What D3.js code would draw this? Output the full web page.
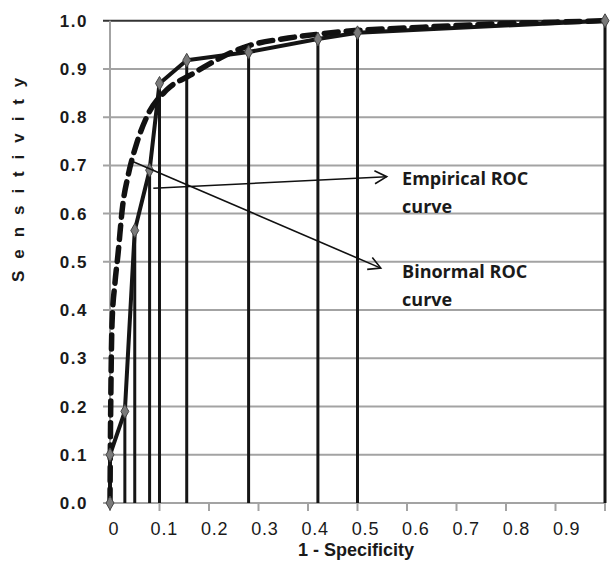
<!DOCTYPE html>
<html>
<head>
<meta charset="utf-8">
<script src="https://cdn.jsdelivr.net/npm/d3@7"></script>
<style>
  body { margin: 0; background: #fff; }
  svg { display: block; }
</style>
</head>
<body>
<div id="chart"></div>
<script>
// data
var empiricalFpr  = [0, 0, 0.03, 0.05, 0.08, 0.10, 0.155, 0.28, 0.42, 0.50, 1.0];
var empiricalTpr  = [0, 0.10, 0.19, 0.565, 0.69, 0.87, 0.918, 0.935, 0.962, 0.975, 1.0];

var binormalFpr   = [0, 0.001, 0.002, 0.004, 0.010, 0.016, 0.026, 0.036, 0.054, 0.074, 0.114, 0.162, 0.28, 0.36, 0.42, 0.50, 0.60, 0.70, 0.80, 0.90, 1.0];
var binormalTpr   = [0, 0.15, 0.25, 0.37, 0.456, 0.514, 0.62, 0.676, 0.746, 0.80, 0.856, 0.887, 0.948, 0.964, 0.972, 0.98, 0.985, 0.99, 0.994, 0.997, 1.0];

var xTicks = [0, 0.1, 0.2, 0.3, 0.4, 0.5, 0.6, 0.7, 0.8, 0.9];
var yTicks = [0, 0.1, 0.2, 0.3, 0.4, 0.5, 0.6, 0.7, 0.8, 0.9, 1.0];

// annotation arrows (data units) and their labels
var notes = [
    {from: [0.0875, 0.6525], to: [0.559, 0.6766], lines: ["Empirical ROC", "curve"], at: [0.588, 0.66]},
    {from: [0.047, 0.7077], to: [0.547, 0.487], lines: ["Binormal ROC", "curve"], at: [0.588, 0.467]}
];

var width = 611, height = 561;
var x = d3.scaleLinear().domain([0, 1]).range([110, 605]);
var y = d3.scaleLinear().domain([0, 1]).range([503, 20.7]);

var svg = d3.select("#chart").append("svg")
    .attr("width", width)
    .attr("height", height)
    .style("background", "#fff");

var defs = svg.append("defs");
defs.append("marker")
    .attr("id", "arrow")
    .attr("markerUnits", "userSpaceOnUse")
    .attr("markerWidth", 16).attr("markerHeight", 16)
    .attr("refX", 13).attr("refY", 8)
    .attr("orient", "auto")
    .append("path")
    .attr("d", "M1,1.5 L13,8 L1,14.5")
    .attr("fill", "none")
    .attr("stroke", "#111")
    .attr("stroke-width", 1.6);

//gridlines
svg.append("g").selectAll("line")
    .data(yTicks)
    .enter().append("line")
    .attr("x1", x(0) - 7).attr("x2", x(1))
    .attr("y1", d => y(d)).attr("y2", d => y(d))
    .attr("stroke", d => d === 1 ? "#333" : "#a3a3a3")
    .attr("stroke-width", 2);

// left axis line
svg.append("line")
    .attr("x1", x(0)).attr("x2", x(0))
    .attr("y1", y(1)).attr("y2", y(0))
    .attr("stroke", "#a3a3a3").attr("stroke-width", 2);

// x tick marks
svg.append("g").selectAll("line")
    .data(xTicks.concat([1]))
    .enter().append("line")
    .attr("x1", d => x(d)).attr("x2", d => x(d))
    .attr("y1", y(0)).attr("y2", y(0) + 8)
    .attr("stroke", "#a3a3a3").attr("stroke-width", 2);

// y tick labels
svg.append("g").selectAll("text")
    .data(yTicks)
    .enter().append("text")
    .attr("x", 88)
    .attr("y", d => y(d) + 6)
    .attr("text-anchor", "end")
    .style("font-family", "'Liberation Sans', Arial, sans-serif")
    .style("font-weight", "bold")
    .style("font-size", "17px")
    .style("letter-spacing", "1.5px")
    .style("fill", "#1a1a1a")
    .text(d => d3.format(".1f")(d));

// x tick labels
svg.append("g").selectAll("text")
    .data(xTicks)
    .enter().append("text")
    .attr("x", d => x(d) + 4 + 8 * d)
    .attr("y", 535)
    .attr("text-anchor", "middle")
    .style("font-family", "'Liberation Sans', Arial, sans-serif")
    .style("font-size", "18px")
    .style("letter-spacing", "0.8px")
    .style("fill", "#1a1a1a")
    .text(d => d === 0 ? "0" : d3.format(".1f")(d));

// axis titles
svg.append("text")
    .attr("x", 356)
    .attr("y", 556)
    .attr("text-anchor", "middle")
    .style("font-family", "'Liberation Sans', Arial, sans-serif")
    .style("font-weight", "bold")
    .style("font-size", "18px")
    .style("fill", "#1a1a1a")
    .text("1 - Specificity");

svg.append("text")
    .attr("transform", "translate(24," + 178 + ") rotate(-90)")
    .attr("text-anchor", "middle")
    .style("font-family", "'Liberation Sans', Arial, sans-serif")
    .style("font-weight", "bold")
    .style("font-size", "17px")
    .style("letter-spacing", "3.6px")
    .style("fill", "#1a1a1a")
    .text("S e n s i t i v i t y");

var empirical = empiricalFpr.map((d, i) => [d, empiricalTpr[i]]);
var binormal = binormalFpr.map((d, i) => [d, binormalTpr[i]]);

// drop lines from each empirical point
svg.append("g").selectAll("line")
    .data(empirical)
    .enter().append("line")
    .attr("x1", d => x(d[0])).attr("x2", d => x(d[0]))
    .attr("y1", d => y(d[1])).attr("y2", y(0))
    .attr("stroke", "#151515")
    .attr("stroke-width", 3);

// empirical ROC
svg.append("path")
    .datum(empirical)
    .attr("fill", "none")
    .attr("stroke", "#151515")
    .attr("stroke-width", 4)
    .attr("stroke-linejoin", "round")
    .attr("d", d3.line().x(d => x(d[0])).y(d => y(d[1])));

// binormal ROC
svg.append("path")
    .datum(binormal)
    .attr("fill", "none")
    .attr("stroke", "#111")
    .attr("stroke-width", 5.5)
    .attr("stroke-dasharray", "14,8")
    .attr("stroke-linecap", "round")
    .attr("d", d3.line().curve(d3.curveMonotoneX).x(d => x(d[0])).y(d => y(d[1])));

// markers
svg.append("g").selectAll("path")
    .data(empirical)
    .enter().append("path")
    .attr("transform", d => "translate(" + x(d[0]) + "," + y(d[1]) + ")")
    .attr("d", d3.symbol().type(d3.symbolDiamond).size(55))
    .attr("fill", "#7a7a7a")
    .attr("stroke", "#444")
    .attr("stroke-width", 1);

// annotation arrows and labels
var note = svg.append("g").selectAll("g")
    .data(notes)
    .enter().append("g");

note.append("line")
    .attr("x1", d => x(d.from[0])).attr("y1", d => y(d.from[1]))
    .attr("x2", d => x(d.to[0])).attr("y2", d => y(d.to[1]))
    .attr("stroke", "#111")
    .attr("stroke-width", 1.6)
    .attr("marker-end", "url(#arrow)");

note.append("text")
    .attr("x", d => x(d.at[0]) + 1)
    .attr("y", d => y(d.at[1]))
    .style("font-family", "'Open Sans', sans-serif")
    .style("font-weight", "bold")
    .style("font-size", "18px")
    .style("fill", "#1a1a1a")
    .selectAll("tspan")
    .data(d => d.lines)
    .enter().append("tspan")
    .attr("x", function () { return this.parentNode.getAttribute("x"); })
    .attr("dy", (d, i) => i === 0 ? 0 : 28)
    .text(d => d);
</script>
</body>
</html>
